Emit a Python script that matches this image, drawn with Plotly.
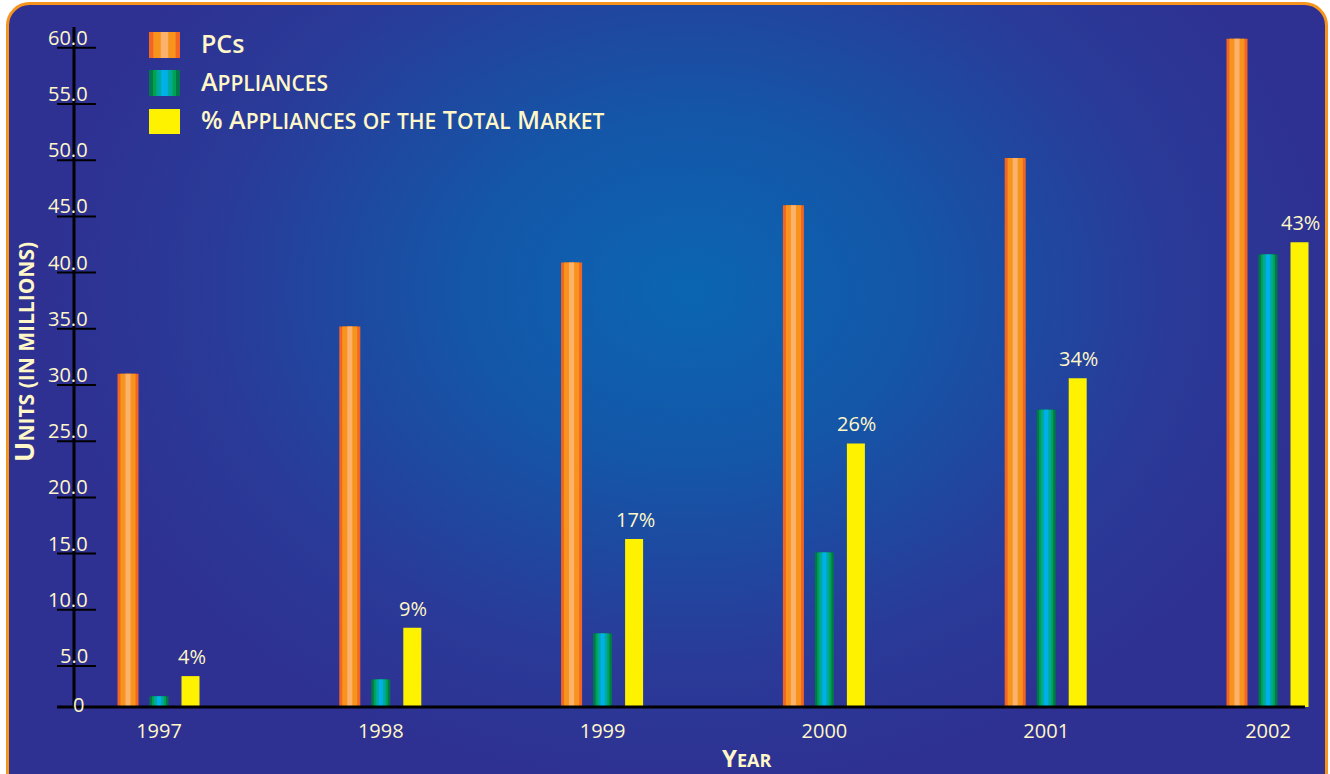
import base64
import plotly.graph_objects as go

# ---------------- data ----------------
years = ["1997", "1998", "1999", "2000", "2001", "2002"]
pcs = [31.0, 35.2, 40.9, 46.0, 50.2, 60.8]
appliances = [2.3, 3.8, 7.9, 15.1, 27.8, 41.6]
pct_share = [4.1, 8.4, 16.3, 24.8, 30.6, 42.7]
pct_labels = ["4%", "9%", "17%", "26%", "34%", "43%"]
y_tick_vals = [5, 10, 15, 20, 25, 30, 35, 40, 45, 50, 55, 60]
y_tick_text = ["5.0", "10.0", "15.0", "20.0", "25.0", "30.0", "35.0", "40.0", "45.0", "50.0", "55.0", "60.0"]
legend_names = ["PCs", "Appliances", "% Appliances of the Total Market"]

# ---------------- layout geometry ----------------
FW, FH = 1330, 774
L, R, T, B = 74, 1312, 27, 707
PW, PH = R - L, B - T
CAT_PX = 221.8
CAT0_PX = 159
X_RANGE = [-(CAT0_PX - L) / CAT_PX, -(CAT0_PX - L) / CAT_PX + PW / CAT_PX]
Y_RANGE = [1.352, 61.85]

CREAM = "#FFF7C8"
FONT = "Open Sans"

ORANGE_LAYERS = [(1.0, "#F26522"), (0.72, "#F7941D"), (0.24, "#FCB26C")]
GREEN_LAYERS = [(1.0, "#00794A"), (0.74, "#00A350"), (0.52, "#00A99D"), (0.22, "#00B0EA")]
YELLOW_LAYERS = [(1.0, "#FFF200")]

PC_CENTER, APP_CENTER, PCT_CENTER = -31, 0, 31.5


def px_x(p):
    return (p - L) / PW


def px_y(p):
    return (B - p) / PH


fig = go.Figure()


def add_striped(values, center_px, width_px, layers):
    for frac, col in layers:
        w = width_px * frac / CAT_PX
        off = center_px / CAT_PX - w / 2
        fig.add_trace(go.Bar(
            x=years, y=values, width=[w] * len(years), offset=off,
            marker=dict(color=col, line=dict(width=0)),
            showlegend=False, hoverinfo="skip",
        ))


add_striped(pcs, PC_CENTER, 21, ORANGE_LAYERS)
add_striped(appliances, APP_CENTER, 19, GREEN_LAYERS)
add_striped(pct_share, PCT_CENTER, 18, YELLOW_LAYERS)

# ---------------- background (radial gradient + rounded orange frame) ----------------
svg = f"""<svg xmlns='http://www.w3.org/2000/svg' width='{FW}' height='{FH}' viewBox='0 0 {FW} {FH}'>
<defs><radialGradient id='g' gradientUnits='userSpaceOnUse' cx='690' cy='290' r='640'
 gradientTransform='translate(690 290) scale(1 0.78) translate(-690 -290)'>
<stop offset='0' stop-color='#0B66B2'/><stop offset='0.35' stop-color='#1456A8'/>
<stop offset='0.75' stop-color='#2A3A98'/><stop offset='1' stop-color='#2E3192'/></radialGradient></defs>
<rect width='{FW}' height='{FH}' fill='white'/>
<rect x='7.5' y='3.5' width='1319' height='860' rx='22' ry='22' fill='url(#g)' stroke='#F7941D' stroke-width='3'/>
</svg>"""
src = "data:image/svg+xml;base64," + base64.b64encode(svg.encode()).decode()

shapes = []
annotations = []

# baseline (x axis line)
shapes.append(dict(type="line", xref="paper", yref="paper", x0=px_x(57), x1=px_x(1305), y0=0, y1=0,
                   line=dict(color="black", width=3), layer="above"))
# y axis line
shapes.append(dict(type="line", xref="paper", yref="paper", x0=0, x1=0, y0=0, y1=1,
                   line=dict(color="black", width=3), layer="above"))
# y ticks (cross the axis)
for v, t in zip(y_tick_vals, y_tick_text):
    shapes.append(dict(type="line", xref="paper", xsizemode="pixel", xanchor=0, x0=-17, x1=22,
                       yref="y", y0=v, y1=v, line=dict(color="black", width=2), layer="above"))
    annotations.append(dict(xref="paper", x=0, xanchor="right", xshift=16, yref="y", y=v,
                            yanchor="bottom", yshift=-5, text=t, showarrow=False,
                            font=dict(family=FONT, size=20, color=CREAM)))
annotations.append(dict(xref="paper", x=0, xanchor="right", xshift=12, yref="paper", y=0,
                        yanchor="middle", yshift=3, text="0", showarrow=False,
                        font=dict(family=FONT, size=20, color=CREAM)))

# percentage labels above yellow bars (category index on the x axis)
for i, (v, lab) in enumerate(zip(pct_share, pct_labels)):
    annotations.append(dict(xref="x", x=i, xshift=PCT_CENTER + 1, yref="y", y=v, yanchor="bottom",
                            yshift=4, text=lab, showarrow=False,
                            font=dict(family=FONT, size=20, color=CREAM)))


# legend (manual, with striped swatches)
def small_caps(text, small):
    out = []
    for word in text.split(" "):
        if word[0].isupper() or not word[0].isalpha():
            first, rest = word[0], word[1:]
        else:
            first, rest = "", word
        s = first
        if rest:
            s += f"<span style='font-size:{small}px'>{rest.upper()}</span>"
        out.append(s)
    return " ".join(out)


legend_rows = [(32, 58, ORANGE_LAYERS), (70, 96, GREEN_LAYERS), (109, 134, YELLOW_LAYERS)]
for (y0, y1, layers), name in zip(legend_rows, legend_names):
    x0, x1 = 149, 180
    cx, w = (x0 + x1) / 2, x1 - x0
    for frac, col in layers:
        shapes.append(dict(type="rect", xref="paper", yref="paper",
                           x0=px_x(cx - w * frac / 2), x1=px_x(cx + w * frac / 2),
                           y0=px_y(y1), y1=px_y(y0), fillcolor=col, line=dict(width=0), layer="above"))
    txt = name if name == "PCs" else small_caps(name, 21)
    annotations.append(dict(xref="paper", yref="paper", x=px_x(199), y=px_y((y0 + y1) / 2 - 2),
                            xanchor="left", yanchor="middle", text=txt, showarrow=False,
                            font=dict(family=FONT, size=25, color=CREAM, weight=600)))

# axis titles
annotations.append(dict(xref="paper", yref="paper", x=px_x(23), y=px_y(352), xanchor="center",
                        yanchor="middle", textangle=-90, showarrow=False,
                        text="U<span style='font-size:21px'>NITS (IN MILLIONS)</span>",
                        font=dict(family=FONT, size=27, color=CREAM, weight=700)))
annotations.append(dict(xref="paper", yref="paper", x=px_x(746), y=px_y(757), xanchor="center",
                        yanchor="middle", showarrow=False,
                        text="Y<span style='font-size:18px'>EAR</span>",
                        font=dict(family=FONT, size=24, color=CREAM, weight=700)))

fig.update_layout(
    width=FW, height=FH,
    margin=dict(l=L, r=FW - R, t=T, b=FH - B, pad=0),
    paper_bgcolor="white", plot_bgcolor="rgba(0,0,0,0)",
    barmode="overlay", showlegend=False,
    images=[dict(source=src, xref="paper", yref="paper", x=-L / PW, y=1 + T / PH,
                 sizex=FW / PW, sizey=FH / PH, xanchor="left", yanchor="top",
                 sizing="stretch", layer="below")],
    xaxis=dict(type="category", categoryorder="array", categoryarray=years, range=X_RANGE,
               showgrid=False, zeroline=False, showline=False, ticks="",
               tickfont=dict(family=FONT, size=20, color=CREAM), ticklabelstandoff=10),
    yaxis=dict(range=Y_RANGE, showgrid=False, zeroline=False, showline=False, ticks="",
               showticklabels=False),
    shapes=shapes, annotations=annotations,
)

fig.write_html("out.html")
